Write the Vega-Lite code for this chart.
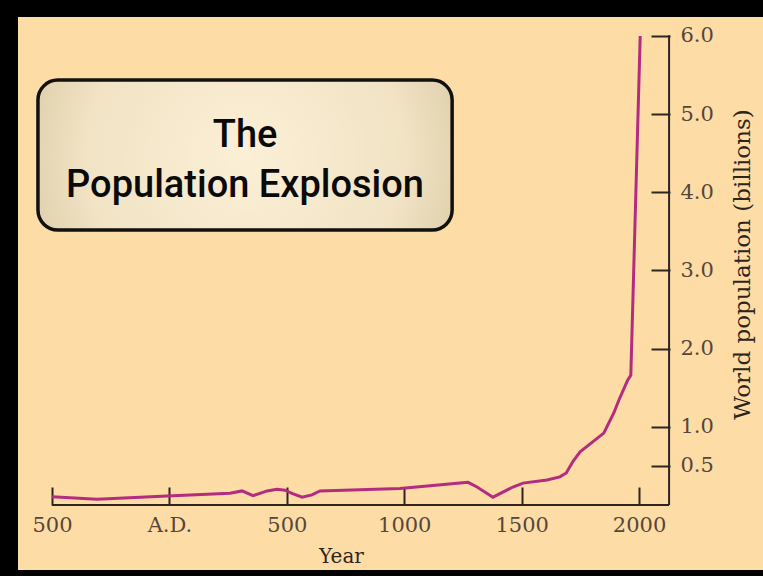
{
  "$schema": "https://vega.github.io/schema/vega-lite/v6.json",
  "width": 745,
  "height": 553,
  "autosize": {"type": "none"},
  "padding": {"left": 18, "top": 17, "right": 0, "bottom": 6},
  "background": "#000000",
  "config": {"view": {"fill": "#fddca6", "stroke": null}},
  "layer": [
    {
      "data": {"values": [{"title": "The\nPopulation Explosion"}]},
      "mark": {
        "type": "rect",
        "fill": {
          "gradient": "radial",
          "x1": 0.5, "y1": 0.5, "r1": 0,
          "x2": 0.5, "y2": 0.5, "r2": 0.7,
          "stops": [
            {"offset": 0, "color": "#fbefd6"},
            {"offset": 0.55, "color": "#f1e3c4"},
            {"offset": 1, "color": "#cdbb93"}
          ]
        },
        "stroke": "#111111",
        "strokeWidth": 3.5,
        "cornerRadius": 20
      },
      "encoding": {
        "x": {"datum": -560, "type": "quantitative", "scale": {"domain": [-645, 2528], "nice": false, "zero": false}},
        "x2": {"datum": 1204},
        "y": {"datum": 5.437, "type": "quantitative", "scale": {"domain": [-0.8315, 6.243], "nice": false, "zero": false}},
        "y2": {"datum": 3.518}
      }
    },
    {
      "data": {"values": [{"title": "The\nPopulation Explosion"}]},
      "mark": {
        "type": "text",
        "font": "Roboto",
        "fontSize": 38,
        "fontWeight": 500,
        "color": "#0a0a0a",
        "align": "center",
        "baseline": "alphabetic",
        "lineBreak": "\n",
        "lineHeight": 50
      },
      "encoding": {
        "x": {"datum": 322, "type": "quantitative", "scale": {"domain": [-645, 2528], "nice": false, "zero": false}},
        "y": {"datum": 4.58, "type": "quantitative", "scale": {"domain": [-0.8315, 6.243], "nice": false, "zero": false}},
        "text": {"field": "title", "type": "nominal"}
      }
    },
    {
      "data": {"values": [{}]},
      "mark": {"type": "rule", "color": "#2d2520", "strokeWidth": 2},
      "encoding": {
        "x": {"datum": -500, "type": "quantitative", "scale": {"domain": [-645, 2528], "nice": false, "zero": false}},
        "x2": {"datum": 2128},
        "y": {"datum": 0, "type": "quantitative", "scale": {"domain": [-0.8315, 6.243], "nice": false, "zero": false}}
      }
    },
    {
      "data": {"values": [{}]},
      "mark": {"type": "rule", "color": "#2d2520", "strokeWidth": 2},
      "encoding": {
        "x": {"datum": 2128, "type": "quantitative", "scale": {"domain": [-645, 2528], "nice": false, "zero": false}},
        "y": {"datum": 0, "type": "quantitative", "scale": {"domain": [-0.8315, 6.243], "nice": false, "zero": false}},
        "y2": {"datum": 6.01}
      }
    },
    {
      "data": {
        "values": [
          {"year": -500, "pop": 0.106},
          {"year": -308, "pop": 0.075},
          {"year": -10, "pop": 0.115},
          {"year": 258, "pop": 0.15},
          {"year": 309, "pop": 0.18},
          {"year": 356, "pop": 0.12},
          {"year": 416, "pop": 0.18},
          {"year": 458, "pop": 0.2},
          {"year": 492, "pop": 0.19},
          {"year": 522, "pop": 0.15},
          {"year": 565, "pop": 0.1},
          {"year": 607, "pop": 0.13},
          {"year": 641, "pop": 0.18},
          {"year": 982, "pop": 0.21},
          {"year": 1238, "pop": 0.28},
          {"year": 1272, "pop": 0.29},
          {"year": 1310, "pop": 0.23},
          {"year": 1378, "pop": 0.1},
          {"year": 1463, "pop": 0.23},
          {"year": 1506, "pop": 0.28},
          {"year": 1608, "pop": 0.32},
          {"year": 1663, "pop": 0.36},
          {"year": 1690, "pop": 0.41},
          {"year": 1719, "pop": 0.56},
          {"year": 1749, "pop": 0.68},
          {"year": 1804, "pop": 0.81},
          {"year": 1850, "pop": 0.92},
          {"year": 1893, "pop": 1.18},
          {"year": 1914, "pop": 1.34},
          {"year": 1952, "pop": 1.6},
          {"year": 1965, "pop": 1.66},
          {"year": 2005, "pop": 6.0}
        ]
      },
      "mark": {"type": "line", "color": "#b22c80", "strokeWidth": 3},
      "encoding": {
        "x": {
          "field": "year",
          "type": "quantitative",
          "scale": {"domain": [-645, 2528], "nice": false, "zero": false},
          "axis": {
            "values": [-500, 0, 500, 1000, 1500, 2000],
            "labelExpr": "datum.value == 0 ? 'A.D.' : format(abs(datum.value), 'd')",
            "domain": false,
            "grid": false,
            "offset": -65,
            "tickSize": -18,
            "tickColor": "#2d2520",
            "tickWidth": 2,
            "labelFont": "DejaVu Serif",
            "labelFontSize": 21,
            "labelColor": "#55463b",
            "labelPadding": 27,
            "labelFlush": false,
            "labelOverlap": false,
            "title": "Year",
            "titleFont": "DejaVu Serif",
            "titleFontSize": 20,
            "titleFontWeight": "normal",
            "titleColor": "#2f241d",
            "titleX": 323,
            "titleY": 57,
            "titleAlign": "center",
            "titleBaseline": "alphabetic"
          }
        },
        "y": {
          "field": "pop",
          "type": "quantitative",
          "scale": {"domain": [-0.8315, 6.243], "nice": false, "zero": false},
          "axis": {
            "orient": "right",
            "values": [0.5, 1, 2, 3, 4, 5, 6],
            "format": ".1f",
            "domain": false,
            "grid": false,
            "offset": -93,
            "tickSize": -19,
            "tickColor": "#2d2520",
            "tickWidth": 2,
            "labelFont": "DejaVu Serif",
            "labelFontSize": 21,
            "labelColor": "#55463b",
            "labelPadding": 29,
            "labelBaseline": "middle",
            "labelFlush": false,
            "labelOverlap": false,
            "title": "World population (billions)",
            "titleFont": "DejaVu Serif",
            "titleFontSize": 23,
            "titleFontWeight": "normal",
            "titleColor": "#2f241d",
            "titleAngle": 270,
            "titleX": 72,
            "titleY": 247,
            "titleAlign": "center",
            "titleBaseline": "middle"
          }
        }
      }
    }
  ]
}
